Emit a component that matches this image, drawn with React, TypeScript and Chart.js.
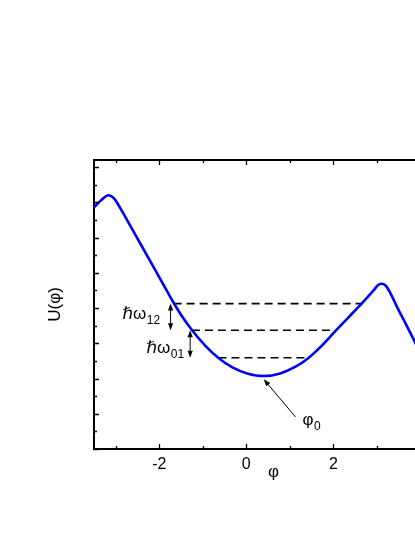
import { useEffect, useRef } from 'react';
import { Chart, registerables } from 'chart.js';

Chart.register(...registerables);

// ---- data ----
const phi = [-3.5, -3.33, -3.17, -3.03, -2.9, -2.73, -2.42, -2.05, -1.67, -1.47, -1.25, -0.94, -0.64, -0.32, 0.02, 0.4, 0.78, 1.13, 1.43, 1.7, 2.05, 2.36, 2.66, 2.93, 3.03, 3.1, 3.2, 3.31, 3.46, 3.66, 3.85, 4.0];
const U = [13.72, 14.13, 14.4, 14.19, 13.68, 12.95, 11.59, 9.97, 8.3, 7.5, 6.75, 5.85, 5.16, 4.63, 4.29, 4.14, 4.29, 4.67, 5.17, 5.78, 6.7, 7.5, 8.28, 9.02, 9.31, 9.38, 9.28, 8.85, 8.08, 7.12, 6.19, 5.42];

// energy levels (dashed lines)
const levelU = [5.18, 6.74, 8.25];
const levelLeft = [-0.64, -1.25, -1.67];
const levelRight = [1.43, 2.05, 2.66];

// axis ranges and tick labels
const xRange = [-3.5, 4.75];
const yRange = [0, 16.4];
const xLabelValues = [-2, 0, 2, 4];

// annotations (data coordinates)
const spacingArrowX = [-1.74, -1.29];
const spacingArrowFrom = [8.25, 6.74];
const spacingArrowTo = [6.74, 5.18];
const labelMain = ['\u210Fω', '\u210Fω', 'φ'];
const labelSub = ['12', '01', '0'];
const labelX = [-2.85, -2.3, 1.29];
const labelY = [7.35, 5.45, 1.36];
const phi0ArrowFrom = [1.13, 1.82];
const phi0ArrowTo = [0.4, 3.96];

const FONT = '"Liberation Sans", Arial, "DejaVu Sans", sans-serif';

function arrowHead(ctx: CanvasRenderingContext2D, x1: number, y1: number, x2: number, y2: number) {
  const ang = Math.atan2(y2 - y1, x2 - x1);
  const len = 7;
  const hw = 2.6;
  ctx.beginPath();
  ctx.moveTo(x2, y2);
  ctx.lineTo(x2 - len * Math.cos(ang) + hw * Math.sin(ang), y2 - len * Math.sin(ang) - hw * Math.cos(ang));
  ctx.lineTo(x2 - len * Math.cos(ang) - hw * Math.sin(ang), y2 - len * Math.sin(ang) + hw * Math.cos(ang));
  ctx.closePath();
  ctx.fill();
}

const decorPlugin = {
  id: 'decor',
  afterDatasetsDraw(chart: any) {
    const ctx: CanvasRenderingContext2D = chart.ctx;
    const xs = chart.scales.x;
    const ys = chart.scales.y;
    const { left, right, top, bottom } = chart.chartArea;
    ctx.save();
    ctx.strokeStyle = '#000';
    ctx.fillStyle = '#000';
    // frame top / right
    ctx.lineWidth = 2;
    ctx.beginPath();
    ctx.moveTo(left - 1, top);
    ctx.lineTo(right, top);
    ctx.lineTo(right, bottom);
    ctx.stroke();
    // inward ticks
    ctx.lineWidth = 1.3;
    ctx.beginPath();
    for (const t of xs.ticks) {
      const v = t.value;
      const px = Math.round(xs.getPixelForValue(v)) + 0.5;
      const len = Math.abs(v % 2) < 1e-9 ? 5 : 3;
      ctx.moveTo(px, bottom);
      ctx.lineTo(px, bottom - len);
      ctx.moveTo(px, top);
      ctx.lineTo(px, top + len);
    }
    for (const t of ys.ticks) {
      const v = t.value;
      const py = Math.round(ys.getPixelForValue(v)) + 0.5;
      const len = Math.abs(v % 2) < 1e-9 ? 5 : 3;
      ctx.moveTo(left, py);
      ctx.lineTo(left + len, py);
      ctx.moveTo(right, py);
      ctx.lineTo(right - len, py);
    }
    ctx.stroke();

    // level spacing arrows
    ctx.lineWidth = 1;
    for (let i = 0; i < spacingArrowX.length; i++) {
      const px = xs.getPixelForValue(spacingArrowX[i]);
      const p1 = ys.getPixelForValue(spacingArrowFrom[i]);
      const p2 = ys.getPixelForValue(spacingArrowTo[i]);
      ctx.beginPath();
      ctx.moveTo(px, p1 + 4);
      ctx.lineTo(px, p2 - 4);
      ctx.stroke();
      arrowHead(ctx, px, p2, px, p1);
      arrowHead(ctx, px, p1, px, p2);
    }
    // phi0 arrow
    {
      const x1 = xs.getPixelForValue(phi0ArrowFrom[0]);
      const y1 = ys.getPixelForValue(phi0ArrowFrom[1]);
      const x2 = xs.getPixelForValue(phi0ArrowTo[0]);
      const y2 = ys.getPixelForValue(phi0ArrowTo[1]);
      ctx.beginPath();
      ctx.moveTo(x1, y1);
      ctx.lineTo(x2 + (x1 - x2) * 0.1, y2 + (y1 - y2) * 0.1);
      ctx.stroke();
      arrowHead(ctx, x1, y1, x2, y2);
    }
    // labels
    ctx.textBaseline = 'alphabetic';
    ctx.textAlign = 'left';
    for (let i = 0; i < labelMain.length; i++) {
      const px = xs.getPixelForValue(labelX[i]);
      const py = ys.getPixelForValue(labelY[i]);
      ctx.font = `17px ${FONT}`;
      ctx.fillText(labelMain[i], px, py);
      const w = ctx.measureText(labelMain[i]).width;
      ctx.font = `12px ${FONT}`;
      ctx.fillText(labelSub[i], px + w + 0.5, py + 5);
    }
    ctx.restore();
  },
};

export default function App() {
  const ref = useRef<HTMLCanvasElement | null>(null);
  useEffect(() => {
    if (!ref.current) return;
    const curve = phi.map((x, i) => ({ x, y: U[i] }));
    const levels = levelU.map((u, i) => ({
      data: [
        { x: levelLeft[i], y: u },
        { x: levelRight[i], y: u },
      ],
      borderColor: '#000',
      borderWidth: 1.6,
      borderDash: [8, 5],
      pointRadius: 0,
      fill: false,
    }));
    const chart = new Chart(ref.current, {
      type: 'line',
      data: {
        datasets: [
          {
            data: curve,
            borderColor: '#0000ff',
            borderWidth: 2.6,
            pointRadius: 0,
            cubicInterpolationMode: 'monotone',
            fill: false,
          },
          ...levels,
        ] as any,
      },
      plugins: [decorPlugin],
      options: {
        animation: false,
        responsive: false,
        events: [],
        layout: { padding: { left: 0, top: 160, right: 67, bottom: 0 } },
        plugins: { legend: { display: false }, tooltip: { enabled: false } },
        scales: {
          x: {
            type: 'linear',
            min: xRange[0],
            max: xRange[1],
            grid: { display: true, drawOnChartArea: false, drawTicks: false },
            border: { display: true, color: '#000', width: 2 },
            ticks: {
              stepSize: 1,
              includeBounds: false,
              autoSkip: false,
              maxRotation: 0,
              padding: 6,
              color: '#000',
              font: { family: FONT, size: 16 },
              callback: (v: any) => (xLabelValues.includes(Number(v)) ? String(v) : ''),
            },
            title: {
              display: true,
              text: 'φ',
              color: '#000',
              font: { family: FONT, size: 17 },
              padding: { top: 0, bottom: 54 },
            },
            afterFit: (s: any) => {
              s.height = 88;
            },
          },
          y: {
            type: 'linear',
            min: yRange[0],
            max: yRange[1],
            grid: { display: true, drawOnChartArea: false, drawTicks: false },
            border: { display: true, color: '#000', width: 2 },
            ticks: { display: false, stepSize: 1, includeBounds: false },
            title: {
              display: true,
              text: 'U(φ)',
              color: '#000',
              font: { family: FONT, size: 17 },
              padding: { top: 45, bottom: 0 },
            },
            afterFit: (s: any) => {
              s.width = 94;
            },
          },
        },
      } as any,
    });
    return () => chart.destroy();
  }, []);
  return (
    <div style={{ position: 'absolute', left: 0, top: 0, width: 415, height: 537, overflow: 'hidden', background: '#fff' }}>
      <canvas ref={ref} width={520} height={537} style={{ display: 'block' }} />
    </div>
  );
}
